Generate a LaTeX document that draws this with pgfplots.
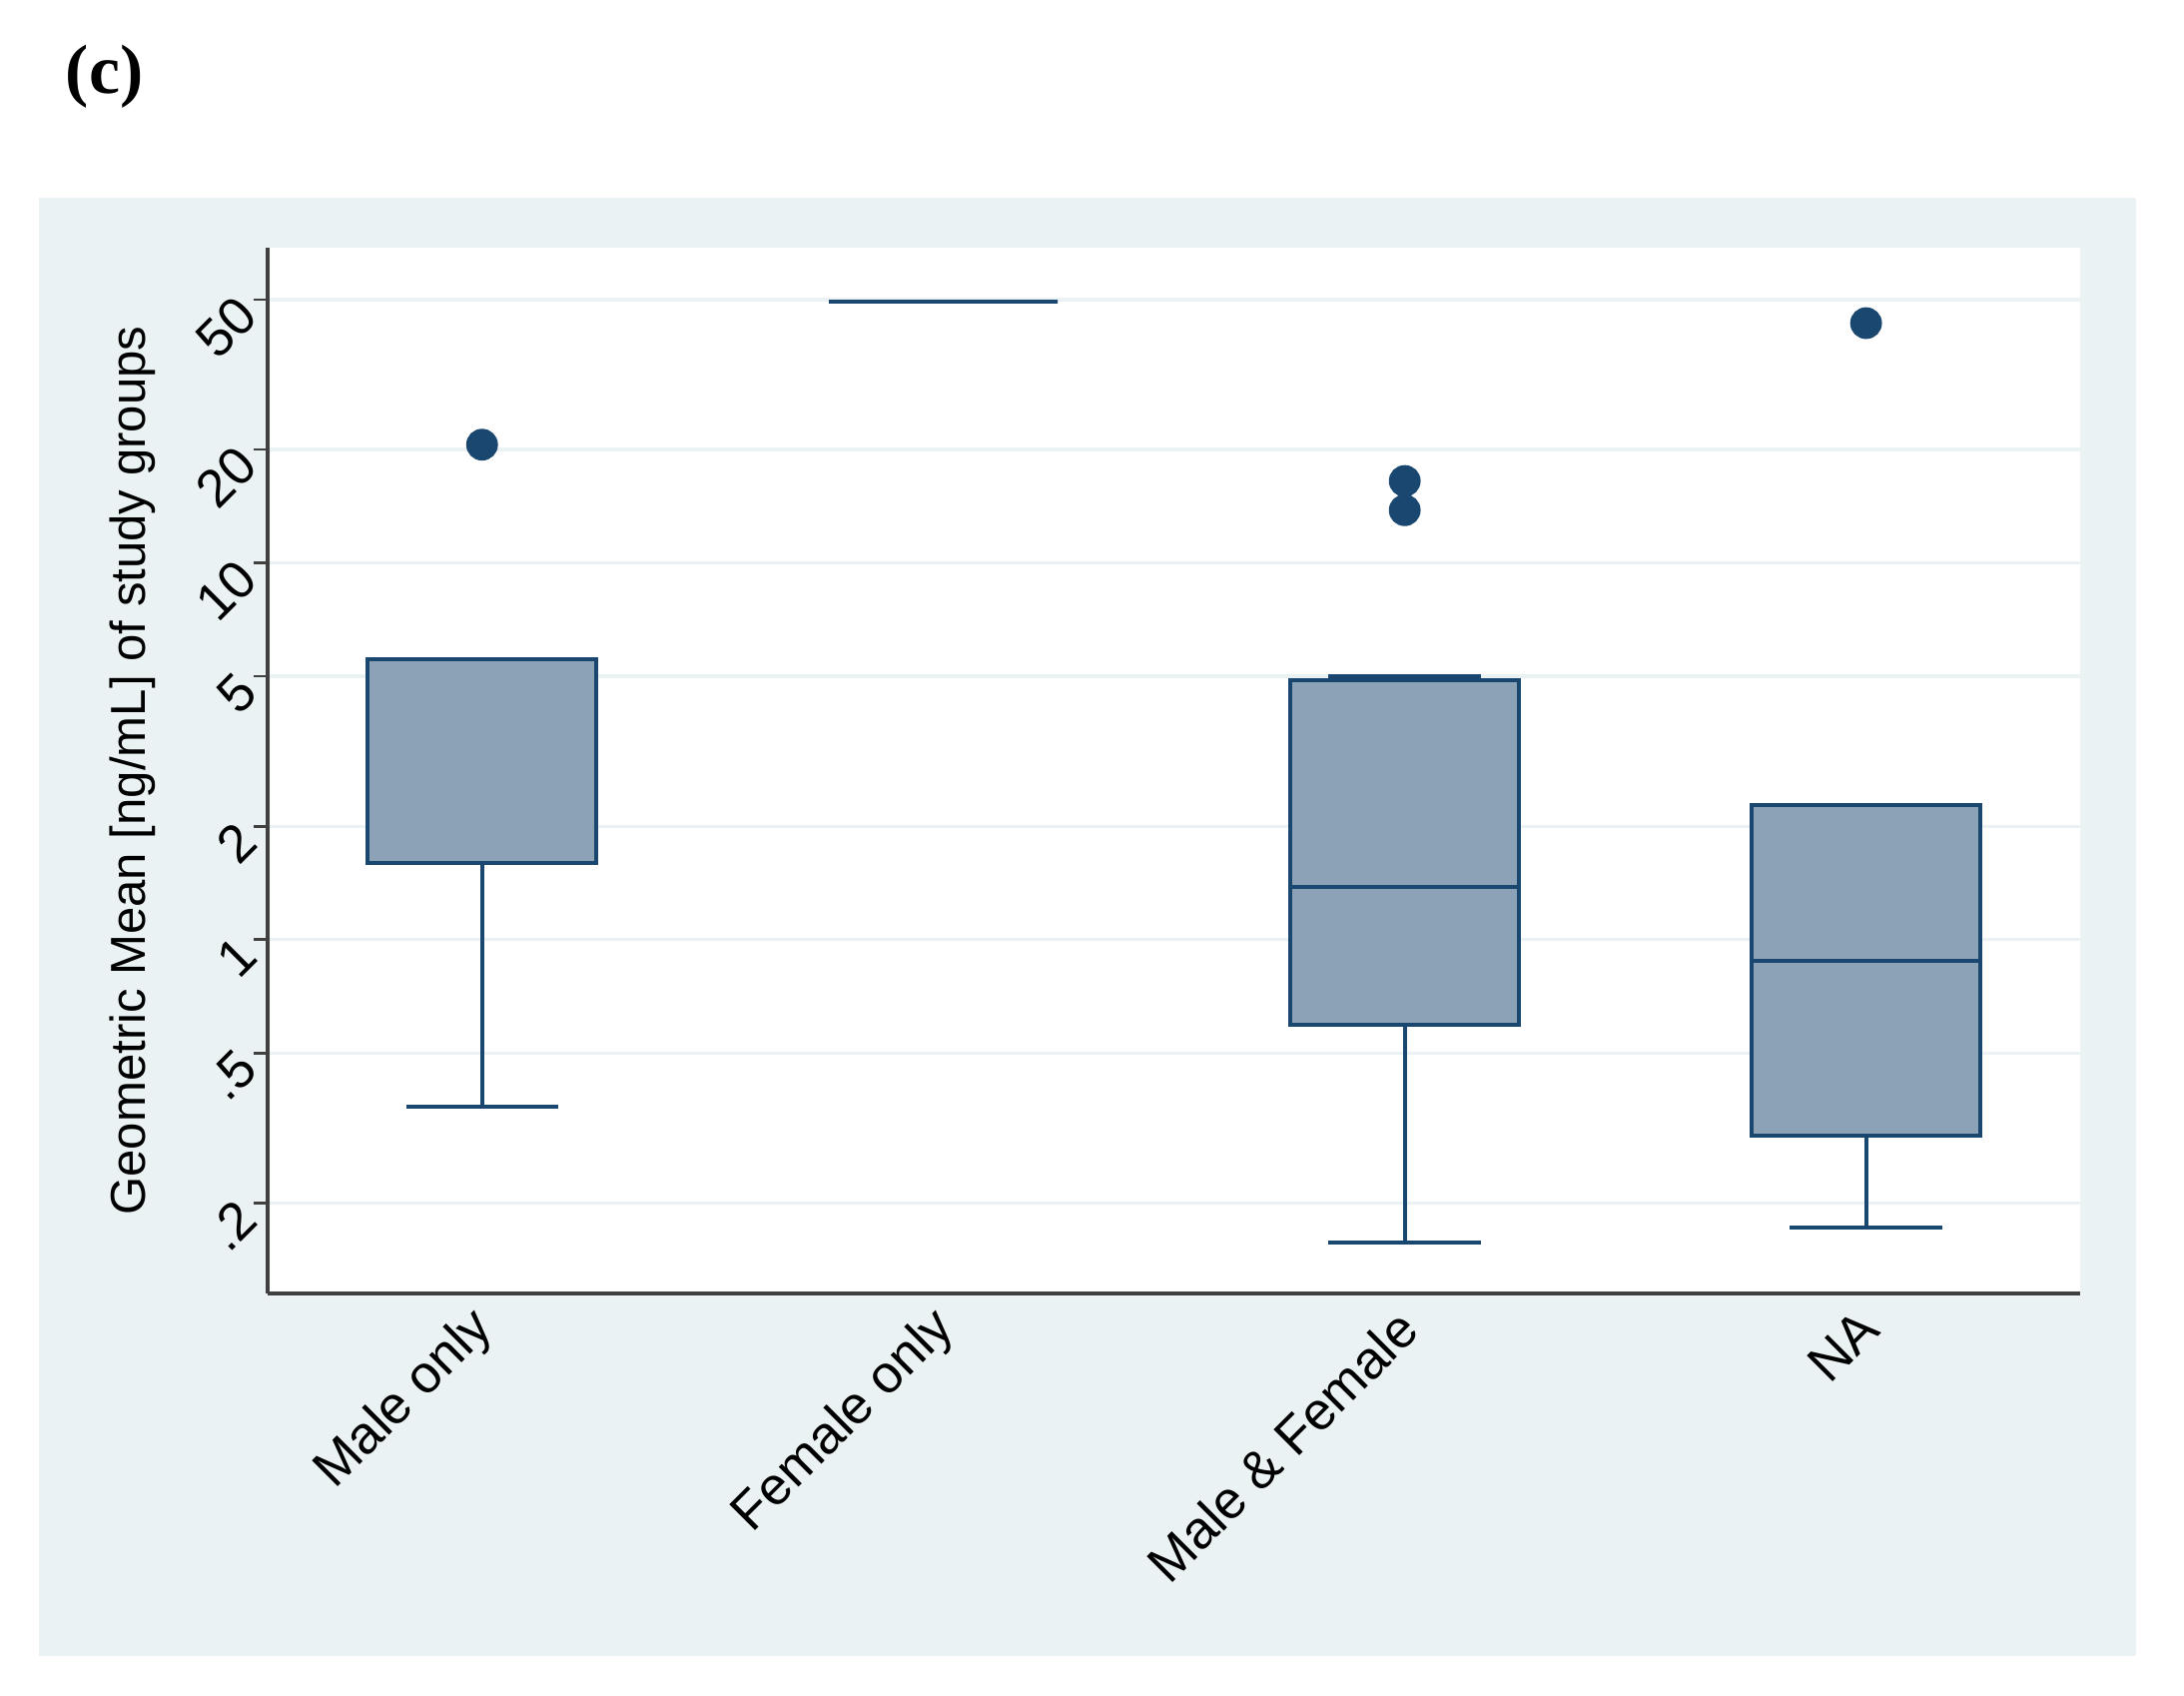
\documentclass[border=0pt]{standalone}
\usepackage{pgfplots}
\pgfplotsset{compat=1.18}
\usepgfplotslibrary{statistics}
\usepackage{fontspec}
\setmainfont{Liberation Sans}
\newfontfamily\serifc{Liberation Serif}
\definecolor{stnavy}{RGB}{26,71,111}
\definecolor{ltbg}{RGB}{234,242,243}
\begin{document}
\begin{tikzpicture}
\path[use as bounding box, fill=white] (-48pt,-72.2pt) rectangle (343.8pt,232pt);
\fill[ltbg] (-41pt,-65pt) rectangle (335.25pt,196.5pt);
\node[font=\serifc\bfseries\fontsize{12.5}{14}\selectfont] at (-29.25pt,218.25pt) {(c)};
\begin{axis}[
  at={(0pt,0pt)}, anchor=south west, scale only axis,
  width=325.25pt, height=187.5pt,
  ymode=log, ymin=0.115, ymax=68.5,
  xmin=0.535, xmax=4.465,
  axis background/.style={fill=white},
  axis lines*=left,
  axis line style={black!75, line width=0.7pt, -},
  ytick={0.2,0.5,1,2,5,10,20,50},
  yticklabels={.2,.5,1,2,5,10,20,50},
  xtick={1,2,3,4},
  xticklabels={Male only,Female only,Male \& Female,NA},
  minor ytick={},
  tick align=outside,
  major tick length=2.5pt,
  ytick style={black!75, line width=0.5pt},
  xtick style={draw=none},
  ymajorgrids,
  grid style={ltbg, line width=0.6pt},
  yticklabel style={rotate=45, anchor=east, font=\fontsize{9.5}{11}\selectfont, inner sep=1.5pt},
  xticklabel style={rotate=45, anchor=east, font=\fontsize{9.5}{11}\selectfont, inner sep=1pt, yshift=-2pt},
  ylabel={Geometric Mean [ng/mL] of study groups},
  every axis y label/.style={at={(axis description cs:-0.0746,0.5)}, rotate=90, anchor=center, font=\fontsize{8.8}{10}\selectfont},
  boxplot/draw direction=y,
  boxplot/box extend=0.495,
  boxplot/whisker extend=0.33,
  mark size=2.5pt,
]
\addplot[draw=stnavy, fill=stnavy!50!white, line width=0.7pt, mark=*, mark options={fill=stnavy, draw=stnavy, solid},
  boxplot prepared={draw position=1, lower whisker=0.361, lower quartile=1.60, median=5.54, upper quartile=5.54, upper whisker=5.54}]
  coordinates {(1,20.6)};
\addplot[draw=stnavy, fill=stnavy!50!white, line width=0.7pt, mark=*, mark options={fill=stnavy, draw=stnavy, solid},
  boxplot prepared={draw position=2, lower whisker=49.5, lower quartile=49.5, median=49.5, upper quartile=49.5, upper whisker=49.5}]
  coordinates {};
\addplot[draw=stnavy, fill=stnavy!50!white, line width=0.7pt, mark=*, mark options={fill=stnavy, draw=stnavy, solid},
  boxplot prepared={draw position=3, lower whisker=0.157, lower quartile=0.593, median=1.38, upper quartile=4.87, upper whisker=5.0}]
  coordinates {(3,16.5) (3,13.8)};
\addplot[draw=stnavy, fill=stnavy!50!white, line width=0.7pt, mark=*, mark options={fill=stnavy, draw=stnavy, solid},
  boxplot prepared={draw position=4, lower whisker=0.172, lower quartile=0.302, median=0.877, upper quartile=2.28, upper whisker=2.28}]
  coordinates {(4,43.3)};
\end{axis}
\end{tikzpicture}
\end{document}
